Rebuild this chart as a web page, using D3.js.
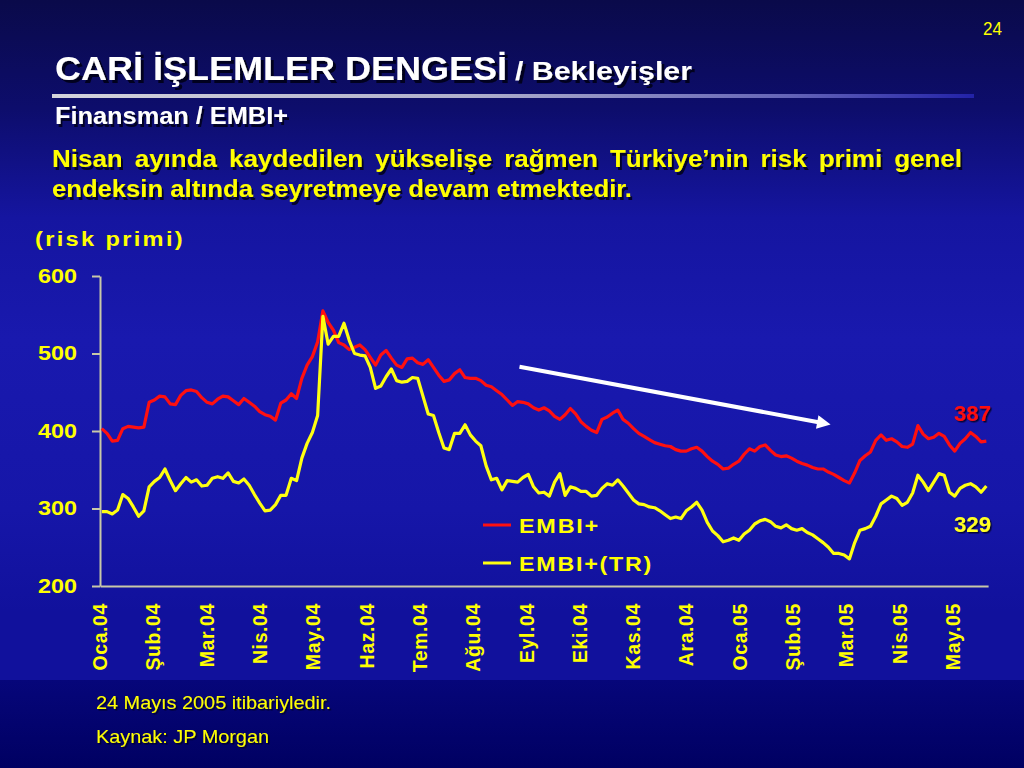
<!DOCTYPE html>
<html><head><meta charset="utf-8">
<script src="https://cdn.jsdelivr.net/npm/d3@7"></script>
<style>body{margin:0;background:#0b0b55;}svg{display:block}</style>
</head><body>
<svg id="c" width="1024" height="768"></svg>
<script>
// ---------- DATA ----------
const startDate = "2004-01-02";   // first observation
const stepDays = 3;               // spacing between observations
const embiPlus = [403,397,387,388,403,406,405,404,405,437,440,445,444,435,434,446,452,453,451,443,
437,435,441,445,444,439,434,442,437,432,425,421,419,414,436,440,448,442,468,485,
496,515,555,540,530,514,511,505,508,511,505,495,485,498,504,494,485,482,493,494,
488,486,492,482,472,464,466,474,479,469,468,468,465,459,457,452,447,440,433,438,
437,435,430,427,430,426,419,415,421,429,422,412,406,401,398,415,418,423,427,415,
410,403,397,393,389,385,383,381,380,376,374,374,377,379,374,367,361,357,351,352,
357,361,370,377,374,380,382,375,369,367,368,365,361,358,356,353,351,351,347,344,
340,336,333,346,362,368,373,388,395,388,390,386,380,379,383,407,396,390,392,397,
393,382,374,384,390,398,393,386,387];
const embiTR = [296,296,293,298,318,313,302,290,297,328,335,340,351,336,323,332,340,334,337,329,
330,339,341,339,346,335,333,338,330,318,307,297,298,305,317,317,339,336,365,384,
398,420,548,512,522,522,539,517,500,498,497,482,455,458,470,480,465,463,464,469,
468,445,422,420,398,378,376,397,397,408,395,387,381,355,337,339,324,336,335,334,
340,344,328,320,321,316,334,345,317,328,326,322,322,316,317,326,332,330,337,329,
320,311,306,305,302,301,297,292,287,289,287,297,302,308,298,282,271,265,257,259,
262,259,267,272,280,284,286,283,277,275,279,274,272,274,269,266,261,256,250,242,
242,240,235,256,272,274,277,290,306,311,316,313,304,308,320,343,334,323,334,345,
343,321,316,326,330,332,328,321,329];
const monthLabels = ["Oca.04","Şub.04","Mar.04","Nis.04","May.04","Haz.04","Tem.04","Ağu.04",
"Eyl.04","Eki.04","Kas.04","Ara.04","Oca.05","Şub.05","Mar.05","Nis.05","May.05"];
const yTicks = [200,300,400,500,600];
const seriesNames = ["EMBI+","EMBI+(TR)"];
const lastValues = [387,329];
const trendArrow = [["2004-08-27",483],["2005-02-21",408]];

// ---------- SETUP ----------
const svg = d3.select("#c");
const defs = svg.append("defs");
const bg = defs.append("linearGradient").attr("id","bg").attr("x1",0).attr("y1",0).attr("x2",0).attr("y2",1);
[[0,"#0a0a4a"],[0.16,"#0d0d6c"],[0.32,"#1515a0"],[0.5,"#1919ae"],[0.75,"#1616a8"],[0.9,"#11119c"]]
  .forEach(([o,c])=>bg.append("stop").attr("offset",o).attr("stop-color",c));
const band = defs.append("linearGradient").attr("id","band").attr("x1",0).attr("y1",0).attr("x2",0).attr("y2",1);
[[0,"#06067a"],[1,"#000062"]].forEach(([o,c])=>band.append("stop").attr("offset",o).attr("stop-color",c));
const rule = defs.append("linearGradient").attr("id","rule");
[[0,"#d4d4dc"],[0.45,"#b0b0cc"],[0.8,"#6464b8"],[1,"#2222a8"]]
  .forEach(([o,c])=>rule.append("stop").attr("offset",o).attr("stop-color",c));
defs.append("marker").attr("id","ah").attr("viewBox","0 0 10 10").attr("refX",2).attr("refY",5)
  .attr("markerWidth",4).attr("markerHeight",3.4).attr("orient","auto").attr("markerUnits","strokeWidth")
  .append("path").attr("d","M0,0L10,5L0,10Z").attr("fill","#ffffff");
function shadowFilter(id, dx, dy, sd, op){
  defs.append("filter").attr("id",id).attr("x","-10%").attr("y","-30%").attr("width","130%").attr("height","180%")
    .append("feDropShadow").attr("dx",dx).attr("dy",dy).attr("stdDeviation",sd)
    .attr("flood-color","#000014").attr("flood-opacity",op);
}
shadowFilter("sh3",3,3,0.6,0.9);
shadowFilter("sh2",2,3,0.6,0.85);
shadowFilter("sh1",1.5,1.5,0.5,0.8);

svg.append("rect").attr("width",1024).attr("height",680).attr("fill","url(#bg)");
svg.append("rect").attr("y",680).attr("width",1024).attr("height",88).attr("fill","url(#band)");

const SANS = "'Liberation Sans',Arial,Helvetica,sans-serif";

function txt(p, o){
  const t = p.append("text").attr("x",o.x).attr("y",o.y).text(o.text)
    .attr("font-family",SANS).attr("font-size",o.size).attr("font-weight",o.weight||"bold")
    .attr("fill",o.fill).attr("text-anchor",o.anchor||"start");
  if(o.len) t.attr("textLength",o.len).attr("lengthAdjust",o.adj||"spacingAndGlyphs");
  if(o.ls) t.attr("letter-spacing",o.ls);
  if(o.sh) t.attr("filter",`url(#${o.sh})`);
  return t;
}

// ---------- HEADER ----------
txt(svg,{x:1002,y:35,text:"24",size:18,weight:"normal",fill:"#ffff00",anchor:"end",len:19});
txt(svg,{x:55,y:80,text:"CARİ İŞLEMLER DENGESİ",size:33,fill:"#ffffff",len:452,sh:"sh3"});
txt(svg,{x:515,y:80,text:"/ Bekleyişler",size:25,fill:"#ffffff",len:177,sh:"sh3"});
svg.append("rect").attr("x",52).attr("y",94).attr("width",922).attr("height",4).attr("fill","url(#rule)");
txt(svg,{x:55,y:124,text:"Finansman / EMBI+",size:24,fill:"#ffffff",len:233,sh:"sh2"});

// justified paragraph (first line justified, last line natural)
const para = ["Nisan ayında kaydedilen yükselişe rağmen Türkiye’nin risk primi genel",
              "endeksin altında seyretmeye devam etmektedir."];
(function(){
  const words = para[0].split(" ");
  const g = svg.append("g").attr("filter","url(#sh2)");
  const left = 52, right = 962, size = 24;
  const meas = words.map(w=>{
    const t = g.append("text").text(w).attr("font-family",SANS).attr("font-size",size).attr("font-weight","bold");
    const w2 = t.node().getComputedTextLength(); t.remove(); return w2;});
  const sum = d3.sum(meas);
  const target = right-left;
  const minGap = 12;
  const k = Math.min(1.2, (target - minGap*(words.length-1))/sum);
  const gap = (target - sum*k)/(words.length-1);
  let x = left;
  words.forEach((w,i)=>{
    txt(g,{x:x,y:167,text:w,size:size,fill:"#ffff00",len:meas[i]*k});
    x += meas[i]*k + gap;
  });
  txt(svg,{x:52,y:197,text:para[1],size:size,fill:"#ffff00",len:580,sh:"sh2"});
})();

// ---------- CHART ----------
const parse = d3.utcParse("%Y-%m-%d");
const t0 = parse(startDate);
const redData = embiPlus.map((v,i)=>({date:d3.utcDay.offset(t0,i*stepDays),v}));
const yelData = embiTR.map((v,i)=>({date:d3.utcDay.offset(t0,i*stepDays),v}));

const x = d3.scaleUtc().domain([parse("2004-01-01"),parse("2005-05-01")]).range([100,953]);
const y = d3.scaleLinear().domain([200,600]).range([586,276]);
const xCat = d3.scalePoint().domain(monthLabels).range([100,953]);

// y axis
const ya = svg.append("g").attr("transform","translate(100,0)")
  .call(d3.axisLeft(y).tickValues(yTicks).tickSize(8).tickSizeOuter(0).tickPadding(15).tickFormat(d3.format("d")));
ya.select(".domain").attr("stroke","#c8c8a8").attr("stroke-width",2);
ya.selectAll(".tick line").attr("stroke","#c8c8a8").attr("stroke-width",2);
ya.selectAll(".tick text").attr("fill","#ffff00").attr("font-family",SANS).attr("font-weight","bold")
  .attr("font-size",20).attr("textLength",39).attr("lengthAdjust","spacingAndGlyphs");

// x axis
const lastDate = redData[redData.length-1].date;
const xEnd = d3.utcDay.offset(lastDate,1);
const xa = svg.append("g").attr("transform","translate(0,586)")
  .call(d3.axisBottom(x.copy().domain([x.domain()[0], xEnd]).range([100, x(xEnd)]))
    .tickValues([]).tickSizeOuter(0));
xa.select(".domain").attr("stroke","#c8c8a8").attr("stroke-width",2);

svg.append("g").selectAll("text").data(monthLabels).join("text")
  .attr("transform",d=>`translate(${xCat(d)},603) rotate(-90)`)
  .attr("text-anchor","end").attr("dy","0.36em")
  .attr("font-family",SANS).attr("font-weight","bold").attr("font-size",19.5).attr("letter-spacing",0.6)
  .attr("fill","#ffff00").text(d=>d);

// y-axis title
txt(svg,{x:35,y:246,text:"(risk primi)",size:20,fill:"#ffff00",len:150,ls:2});

// lines
const line = d3.line().x(d=>x(d.date)).y(d=>y(d.v)).curve(d3.curveLinear);
svg.append("path").datum(redData).attr("d",line).attr("fill","none")
  .attr("stroke","#ff1010").attr("stroke-width",3.2).attr("stroke-linejoin","round");
svg.append("path").datum(yelData).attr("d",line).attr("fill","none")
  .attr("stroke","#ffff10").attr("stroke-width",3.2).attr("stroke-linejoin","round");

// trend arrow
svg.append("line")
  .attr("x1",x(parse(trendArrow[0][0]))).attr("y1",y(trendArrow[0][1]))
  .attr("x2",x(parse(trendArrow[1][0]))-12).attr("y2",y(trendArrow[1][1])-2.3)
  .attr("stroke","#ffffff").attr("stroke-width",4).attr("marker-end","url(#ah)");

// legend
const lg = svg.append("g");
[["#ff1010",525],["#ffff10",563]].forEach(([c,yy],i)=>{
  lg.append("line").attr("x1",483).attr("x2",511).attr("y1",yy).attr("y2",yy).attr("stroke",c).attr("stroke-width",3);
  txt(lg,{x:519,y:yy+8,text:seriesNames[i],size:20,fill:"#ffff00",len:i?134:81,ls:1.5});
});

// last values
txt(svg,{x:991,y:421,text:String(lastValues[0]),size:22,fill:"#ff1010",anchor:"end",len:37,sh:"sh1"});
txt(svg,{x:991,y:532,text:String(lastValues[1]),size:22,fill:"#ffff20",anchor:"end",len:37,sh:"sh1"});

// footnotes
txt(svg,{x:96,y:709,text:"24 Mayıs 2005 itibariyledir.",size:19,weight:"normal",fill:"#ffff00",len:235,sh:"sh1"});
txt(svg,{x:96,y:743,text:"Kaynak: JP Morgan",size:19,weight:"normal",fill:"#ffff00",len:173,sh:"sh1"});
</script>
</body></html>
